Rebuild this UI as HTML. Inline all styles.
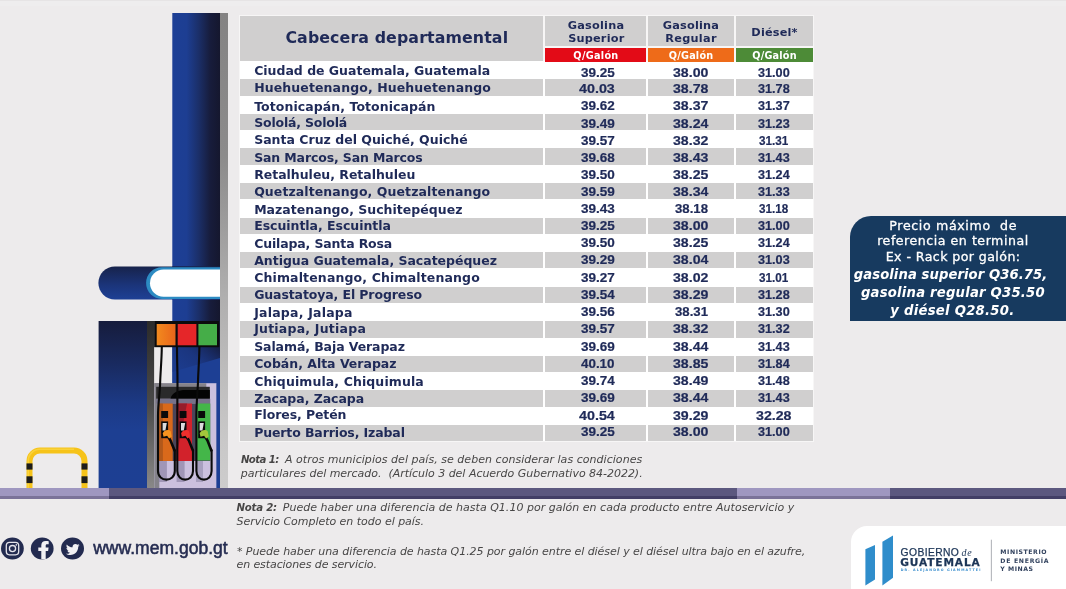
<!DOCTYPE html>
<html lang="es"><head><meta charset="utf-8"><title>Precios de referencia de combustibles</title>
<style>

html,body{margin:0;padding:0;background:#edebec;}
#page{position:relative;width:1066px;height:589px;overflow:hidden;background:#edebec;font-family:"DejaVu Sans","Liberation Sans",sans-serif;}
.abs{position:absolute;}
.url{-webkit-text-stroke:0.55px #262d52;}
.n{-webkit-text-stroke:0.2px #1f2a58;}
.med{-webkit-text-stroke:0.3px #fff;}
.gob{-webkit-text-stroke:0.25px #1c3557;}
.t{position:absolute;white-space:pre;line-height:20px;height:20px;margin:0;padding:0;}
.cell{position:absolute;background:#d0cfcf;}
#illus{position:absolute;left:0;top:0;}

</style></head><body><div id="page">
<div class="abs" style="left:0;top:0;width:1066px;height:6px;background:#eeedee"></div><div class="abs" style="left:0;top:0;width:1066px;height:1px;background:#e6e4e5"></div>
<svg id="illus" width="1066" height="589" viewBox="0 0 1066 589">
<defs>
<linearGradient id="gPil" x1="0" y1="0" x2="1" y2="0">
<stop offset="0" stop-color="#1d3f95"/><stop offset="0.3" stop-color="#1d3e92"/><stop offset="0.55" stop-color="#1b2f69"/><stop offset="0.8" stop-color="#171c3b"/><stop offset="1" stop-color="#15172e"/>
</linearGradient>
<linearGradient id="gWall" x1="0" y1="0" x2="0" y2="1">
<stop offset="0" stop-color="#848383"/><stop offset="0.3" stop-color="#8c8b8b"/><stop offset="0.6" stop-color="#b0afaf"/><stop offset="0.9" stop-color="#c9c8c8"/><stop offset="1" stop-color="#cdcccc"/>
</linearGradient>
<linearGradient id="gArm" x1="0" y1="0" x2="0" y2="1">
<stop offset="0" stop-color="#17234b"/><stop offset="0.55" stop-color="#1b3479"/><stop offset="1" stop-color="#1e4095"/>
</linearGradient>
<linearGradient id="gBlk" x1="0" y1="0" x2="0" y2="1">
<stop offset="0" stop-color="#161c3c"/><stop offset="0.25" stop-color="#192a5f"/><stop offset="0.5" stop-color="#1c3a86"/><stop offset="0.65" stop-color="#1d3f92"/><stop offset="1" stop-color="#1d3f93"/>
</linearGradient>
<linearGradient id="gSide" x1="0" y1="0" x2="0" y2="1">
<stop offset="0" stop-color="#2b2b2b"/><stop offset="0.5" stop-color="#4a4a4a"/><stop offset="1" stop-color="#8a8989"/>
</linearGradient>
<linearGradient id="gOr" x1="0" y1="0" x2="1" y2="0">
<stop offset="0" stop-color="#f28a1e"/><stop offset="1" stop-color="#e9651b"/>
</linearGradient>
<linearGradient id="gShadow" x1="1" y1="0" x2="0" y2="0.6">
<stop offset="0" stop-color="#151b3a" stop-opacity="0.95"/><stop offset="0.55" stop-color="#182a66" stop-opacity="0.45"/><stop offset="1" stop-color="#1a347e" stop-opacity="0.35"/>
</linearGradient>
</defs>
<!-- pillar -->
<rect x="172.3" y="13" width="47.7" height="476" fill="url(#gPil)"/>
<!-- canopy arm -->
<rect x="98.4" y="266.5" width="125" height="33" rx="16.5" fill="url(#gArm)"/>
<rect x="172.3" y="266.5" width="47.7" height="33" fill="url(#gArm)"/>
<path d="M220 267.2 H162 a15.9 15.9 0 0 0 0 31.8 H220 Z" fill="#2c8bc3"/>
<path d="M220 269.6 H163.6 a13.6 13.6 0 0 0 0 27.2 H220 Z" fill="#ffffff"/>
<rect x="220" y="13" width="8" height="476" fill="url(#gWall)"/>
<!-- dark block -->
<rect x="98.6" y="321" width="49" height="168" fill="url(#gBlk)"/>
<rect x="147" y="321" width="7.4" height="168" fill="url(#gSide)"/>
<!-- gap behind hoses (bg) -->
<rect x="154.3" y="347" width="18" height="37" fill="#edebec"/>
<!-- shadow on pillar below frame -->
<rect x="172.3" y="347" width="47.7" height="142" fill="#1d3f94"/>
<polygon points="172.3,347 220,347 220,358 172.3,372" fill="url(#gShadow)"/>
<!-- colour frame -->
<rect x="154.2" y="321" width="64.8" height="26.2" fill="#0b0b0d"/>
<rect x="156.7" y="324" width="18.8" height="21.3" fill="url(#gOr)"/>
<rect x="177.7" y="324" width="18.7" height="21.3" fill="#e52629"/>
<rect x="198.4" y="324" width="18.6" height="21.3" fill="#45ad48"/>
<!-- pump body -->
<rect x="154.3" y="383.2" width="62.3" height="105.3" fill="#cbc0de"/>
<rect x="154.3" y="383.2" width="52" height="3.8" fill="#85838a"/>
<rect x="154.3" y="383.2" width="5" height="105.3" fill="#84828a"/>
<rect x="156.2" y="386.8" width="53.6" height="12" fill="#2a2a2b"/>
<path d="M170.5 398.8 C172 392.5 178 390 186 390 H209.8 V398.8 Z" fill="#040404"/>
<rect x="156.2" y="398.8" width="54" height="4.7" fill="#77728a"/>
<!-- panels -->
<rect x="158.9" y="403.5" width="51.3" height="57.5" fill="#4b4559"/>
<rect x="158.9" y="403.5" width="13.8" height="57.5" fill="#d9691b"/>
<rect x="158.9" y="403.5" width="4" height="57.5" fill="#8f4a1c" opacity="0.55"/>
<rect x="176.6" y="403.5" width="15.4" height="57.5" fill="#d2222b"/>
<path d="M176.6 403.5 h10.5 l-10.5 52 z" fill="#8c1b2a" opacity="0.85"/>
<rect x="197" y="403.5" width="13.2" height="57" fill="#44b649"/>
<!-- lower shadows -->
<rect x="158.9" y="461" width="8" height="21" fill="#8d85a6" opacity="0.7"/>
<rect x="176.6" y="461" width="8" height="21" fill="#8d85a6" opacity="0.7"/>
<rect x="196" y="461" width="7" height="21" fill="#8d85a6" opacity="0.55"/>
<!-- displays -->
<g fill="#0a0a0a">
<rect x="161.2" y="411" width="6.9" height="7"/><rect x="179.6" y="411" width="6.9" height="7"/><rect x="198.2" y="411" width="6.9" height="7"/>
<rect x="161.2" y="421.4" width="6.9" height="16.8"/><rect x="179.6" y="421.4" width="6.9" height="16.8"/><rect x="198.2" y="421.4" width="6.9" height="16.8"/>
</g>
<g fill="#dcdcdc">
<path d="M162.6 423 h4.2 l-1.4 7.5 h-2.8z"/><path d="M181 423 h4.2 l-1.4 7.5 h-2.8z"/><path d="M199.6 423 h4.2 l-1.4 7.5 h-2.8z"/>
</g>
<!-- nozzle handles -->
<g fill="none" stroke="#0a0a0a" stroke-width="2.6" stroke-linecap="round">
<path d="M167.5 435.5 L170.5 440.5 L174.6 450.4"/>
<path d="M185.9 435.5 L188.9 440.5 L192.9 450.4"/>
<path d="M204.5 435.5 L207.5 440.5 L211.4 450.4"/>
</g>
<!-- nozzles -->
<path d="M162.7 433.2 c1.2-3.2 6-4.4 8-2 l1 5.2 -2.6 2.2 -2-2.8 -3.6 1 z" fill="#f6931f"/>
<path d="M181.1 433.2 c1.2-3.2 6-4.4 8-2 l1 5.2 -2.6 2.2 -2-2.8 -3.6 1 z" fill="#ee2f2c"/>
<path d="M199.7 433.2 c1.2-3.2 6-4.4 8-2 l1 5.2 -2.6 2.2 -2-2.8 -3.6 1 z" fill="#a3c73b"/>
<!-- hoses -->
<g fill="none" stroke="#0a0a0a" stroke-width="2.1" stroke-linecap="round">
<path d="M161.8 347 C161.6 362 160.4 372 160.1 384 C159.6 396 158 404 158 416 V471 C158 482.5 174.8 482.5 174.8 471 V450.4"/>
<path d="M177 347 C177 362 177.6 372 177.5 384 C177.4 396 177.3 404 177.3 416 V471 C177.3 482.5 193 482.5 193 471 V450.4"/>
<path d="M199.4 347 C199.2 362 198.2 372 197.9 384 C197.4 394 196.4 404 196.4 416 V471 C196.4 482.5 211.6 482.5 211.6 471 V450.4"/>
</g>
<!-- right blue strip beside pump -->
<rect x="216.6" y="383.2" width="3.4" height="105.3" fill="#1d3f94"/>
<!-- barrier -->
<path d="M29.5 489 V461 A10.5 10.5 0 0 1 40 450.5 H74 A10.5 10.5 0 0 1 84.5 461 V489" fill="none" stroke="#f6c31a" stroke-width="6"/>
<path d="M28.2 489 V461 A11.8 11.8 0 0 1 40 449.2 H74" fill="none" stroke="#fbd84a" stroke-width="1.6" opacity="0.7"/>
<g fill="#1c1c1c">
<rect x="26.5" y="463.4" width="6" height="6.2"/><rect x="26.5" y="476.3" width="6" height="6.8"/>
<rect x="81.5" y="463.4" width="6" height="6.2"/><rect x="81.5" y="476.3" width="6" height="6.8"/>
</g>
</svg>

<div class="abs" style="left:0;top:488px;width:1066px;height:11px;background:#5c587f"></div>
<div class="abs" style="left:0;top:495.5px;width:1066px;height:3.5px;background:#433f66"></div>
<div class="abs" style="left:0px;top:488px;width:109px;height:11px;background:#9f97c0"></div>
<div class="abs" style="left:0px;top:495.5px;width:109px;height:3.5px;background:#7b7399"></div>
<div class="abs" style="left:737px;top:488px;width:152.5px;height:11px;background:#9f97c0"></div>
<div class="abs" style="left:737px;top:495.5px;width:152.5px;height:3.5px;background:#7b7399"></div>
<div id="tabla" class="abs" style="left:239px;top:14.5px;width:574.5px;height:427px;background:#f7f6f6"></div>
<div class="abs" style="left:240px;top:61px;width:572.6px;height:380px;background:#fff"></div>
<div class="cell" style="left:240px;top:16px;width:303.3px;height:45px"></div>
<div class="cell" style="left:545.1px;top:16px;width:101.2px;height:30px"></div>
<div class="cell" style="left:545.1px;top:48px;width:101.2px;height:13.5px;background:#e30b17"></div>
<div class="cell" style="left:648.3px;top:16px;width:85.3px;height:30px"></div>
<div class="cell" style="left:648.3px;top:48px;width:85.3px;height:13.5px;background:#ee6b19"></div>
<div class="cell" style="left:735.9px;top:16px;width:76.7px;height:30px"></div>
<div class="cell" style="left:735.9px;top:48px;width:76.7px;height:13.5px;background:#4d8b37"></div>
<div class="cell" style="left:240px;top:79.30px;width:303.3px;height:16.4px"></div>
<div class="cell" style="left:545.1px;top:79.30px;width:101.2px;height:16.4px"></div>
<div class="cell" style="left:648.3px;top:79.30px;width:85.3px;height:16.4px"></div>
<div class="cell" style="left:735.9px;top:79.30px;width:76.7px;height:16.4px"></div>
<div class="cell" style="left:240px;top:113.85px;width:303.3px;height:16.4px"></div>
<div class="cell" style="left:545.1px;top:113.85px;width:101.2px;height:16.4px"></div>
<div class="cell" style="left:648.3px;top:113.85px;width:85.3px;height:16.4px"></div>
<div class="cell" style="left:735.9px;top:113.85px;width:76.7px;height:16.4px"></div>
<div class="cell" style="left:240px;top:148.40px;width:303.3px;height:16.4px"></div>
<div class="cell" style="left:545.1px;top:148.40px;width:101.2px;height:16.4px"></div>
<div class="cell" style="left:648.3px;top:148.40px;width:85.3px;height:16.4px"></div>
<div class="cell" style="left:735.9px;top:148.40px;width:76.7px;height:16.4px"></div>
<div class="cell" style="left:240px;top:182.95px;width:303.3px;height:16.4px"></div>
<div class="cell" style="left:545.1px;top:182.95px;width:101.2px;height:16.4px"></div>
<div class="cell" style="left:648.3px;top:182.95px;width:85.3px;height:16.4px"></div>
<div class="cell" style="left:735.9px;top:182.95px;width:76.7px;height:16.4px"></div>
<div class="cell" style="left:240px;top:217.50px;width:303.3px;height:16.4px"></div>
<div class="cell" style="left:545.1px;top:217.50px;width:101.2px;height:16.4px"></div>
<div class="cell" style="left:648.3px;top:217.50px;width:85.3px;height:16.4px"></div>
<div class="cell" style="left:735.9px;top:217.50px;width:76.7px;height:16.4px"></div>
<div class="cell" style="left:240px;top:252.05px;width:303.3px;height:16.4px"></div>
<div class="cell" style="left:545.1px;top:252.05px;width:101.2px;height:16.4px"></div>
<div class="cell" style="left:648.3px;top:252.05px;width:85.3px;height:16.4px"></div>
<div class="cell" style="left:735.9px;top:252.05px;width:76.7px;height:16.4px"></div>
<div class="cell" style="left:240px;top:286.60px;width:303.3px;height:16.4px"></div>
<div class="cell" style="left:545.1px;top:286.60px;width:101.2px;height:16.4px"></div>
<div class="cell" style="left:648.3px;top:286.60px;width:85.3px;height:16.4px"></div>
<div class="cell" style="left:735.9px;top:286.60px;width:76.7px;height:16.4px"></div>
<div class="cell" style="left:240px;top:321.15px;width:303.3px;height:16.4px"></div>
<div class="cell" style="left:545.1px;top:321.15px;width:101.2px;height:16.4px"></div>
<div class="cell" style="left:648.3px;top:321.15px;width:85.3px;height:16.4px"></div>
<div class="cell" style="left:735.9px;top:321.15px;width:76.7px;height:16.4px"></div>
<div class="cell" style="left:240px;top:355.70px;width:303.3px;height:16.4px"></div>
<div class="cell" style="left:545.1px;top:355.70px;width:101.2px;height:16.4px"></div>
<div class="cell" style="left:648.3px;top:355.70px;width:85.3px;height:16.4px"></div>
<div class="cell" style="left:735.9px;top:355.70px;width:76.7px;height:16.4px"></div>
<div class="cell" style="left:240px;top:390.25px;width:303.3px;height:16.4px"></div>
<div class="cell" style="left:545.1px;top:390.25px;width:101.2px;height:16.4px"></div>
<div class="cell" style="left:648.3px;top:390.25px;width:85.3px;height:16.4px"></div>
<div class="cell" style="left:735.9px;top:390.25px;width:76.7px;height:16.4px"></div>
<div class="cell" style="left:240px;top:424.80px;width:303.3px;height:16.4px"></div>
<div class="cell" style="left:545.1px;top:424.80px;width:101.2px;height:16.4px"></div>
<div class="cell" style="left:648.3px;top:424.80px;width:85.3px;height:16.4px"></div>
<div class="cell" style="left:735.9px;top:424.80px;width:76.7px;height:16.4px"></div>
<div class="abs" style="left:850.3px;top:216px;width:216px;height:105px;background:#173a5f;border-top-left-radius:21px"></div>
<svg class="abs" style="left:0;top:534px" width="90" height="30" viewBox="0 534 90 30">
<g fill="#232b50">
<ellipse cx="12.4" cy="548.5" rx="11.4" ry="10.9"/><ellipse cx="42.2" cy="548.5" rx="11.4" ry="10.9"/><ellipse cx="72.5" cy="548.5" rx="11.5" ry="10.9"/>
</g>
<!-- instagram -->
<rect x="6.3" y="542.4" width="12.4" height="12.4" rx="3.2" fill="none" stroke="#e4e3ea" stroke-width="1.3"/>
<circle cx="12.5" cy="548.6" r="3.1" fill="none" stroke="#e4e3ea" stroke-width="1.3"/>
<circle cx="16.3" cy="544.9" r="0.8" fill="#e4e3ea"/>
<!-- facebook -->
<path d="M41.3 559.3 V550.9 H38.3 V547.4 H41.3 V545.2 C41.3 542.3 43.1 540.9 45.6 540.9 C46.8 540.9 48 541.1 48.7 541.2 V544.3 H47.1 C45.9 544.3 45.7 545 45.7 545.8 V547.4 H48.6 L48.1 550.9 H45.7 V559.3 Z" fill="#f2f1f4"/>
<!-- twitter -->
<path d="M79.6 545.2 c-0.5 0.25-1.05 0.4-1.6 0.47 0.6-0.36 1-0.9 1.22-1.56 -0.55 0.32-1.15 0.55-1.78 0.68 -0.52-0.55-1.25-0.9-2.06-0.9 -1.56 0-2.82 1.27-2.82 2.82 0 0.22 0.02 0.44 0.07 0.64 -2.34-0.12-4.42-1.24-5.8-2.95 -0.25 0.42-0.38 0.9-0.38 1.42 0 0.98 0.5 1.84 1.25 2.35 -0.46-0.01-0.9-0.14-1.28-0.35v0.04c0 1.37 0.97 2.5 2.26 2.77 -0.24 0.06-0.5 0.1-0.75 0.1 -0.18 0-0.36-0.02-0.53-0.05 0.36 1.12 1.4 1.94 2.63 1.96 -0.96 0.76-2.18 1.2-3.5 1.2 -0.23 0-0.45-0.01-0.67-0.04 1.25 0.8 2.73 1.27 4.32 1.27 5.18 0 8.02-4.3 8.02-8.02l-0.01-0.36c0.55-0.4 1.03-0.9 1.41-1.47z" fill="#f2f1f4"/>
</svg>

<div class="abs" style="left:850.5px;top:526px;width:216px;height:64px;background:#fff;border-top-left-radius:16px"></div>
<svg class="abs" style="left:850px;top:526px" width="216" height="63" viewBox="850 526 216 63">
<polygon points="865.4,549.2 875,545 875,579.4 865.4,585.4" fill="#2f8dcb"/>
<polygon points="882.4,541.8 893,535.4 893,577.8 882.4,585.4" fill="#2f8dcb"/>
<rect x="990.9" y="539.7" width="0.7" height="41.5" fill="#8a8d96"/>
</svg>

<span class="t " id="t0" style='left:285.42px;top:28.00px;font-family:"DejaVu Sans", "Liberation Sans", sans-serif;font-size:15.8px;font-weight:bold;font-style:normal;color:#1f2a58;letter-spacing:0.110px'>Cabecera departamental</span>
<span class="t " id="t1" style='left:567.76px;top:15.60px;font-family:"DejaVu Sans", "Liberation Sans", sans-serif;font-size:11.3px;font-weight:bold;font-style:normal;color:#1f2a58;letter-spacing:0.212px'>Gasolina</span>
<span class="t " id="t2" style='left:568.15px;top:29.00px;font-family:"DejaVu Sans", "Liberation Sans", sans-serif;font-size:11.3px;font-weight:bold;font-style:normal;color:#1f2a58;letter-spacing:0.199px'>Superior</span>
<span class="t " id="t3" style='left:662.85px;top:16.10px;font-family:"DejaVu Sans", "Liberation Sans", sans-serif;font-size:11.3px;font-weight:bold;font-style:normal;color:#1f2a58;letter-spacing:0.187px'>Gasolina</span>
<span class="t " id="t4" style='left:665.33px;top:29.40px;font-family:"DejaVu Sans", "Liberation Sans", sans-serif;font-size:11.3px;font-weight:bold;font-style:normal;color:#1f2a58;letter-spacing:0.262px'>Regular</span>
<span class="t " id="t5" style='left:751.34px;top:22.50px;font-family:"DejaVu Sans", "Liberation Sans", sans-serif;font-size:11.3px;font-weight:bold;font-style:normal;color:#1f2a58;letter-spacing:0.174px'>Diésel*</span>
<span class="t " id="t6" style='left:573.37px;top:46.00px;font-family:"DejaVu Sans", "Liberation Sans", sans-serif;font-size:9.7px;font-weight:bold;font-style:normal;color:#fff;letter-spacing:0.288px'>Q/Galón</span>
<span class="t " id="t7" style='left:668.87px;top:45.60px;font-family:"DejaVu Sans", "Liberation Sans", sans-serif;font-size:9.7px;font-weight:bold;font-style:normal;color:#fff;letter-spacing:0.188px'>Q/Galón</span>
<span class="t " id="t8" style='left:752.27px;top:45.60px;font-family:"DejaVu Sans", "Liberation Sans", sans-serif;font-size:9.7px;font-weight:bold;font-style:normal;color:#fff;letter-spacing:0.188px'>Q/Galón</span>
<span class="t " id="t9" style='left:254.16px;top:61.00px;font-family:"DejaVu Sans", "Liberation Sans", sans-serif;font-size:12.5px;font-weight:bold;font-style:normal;color:#1f2a58;letter-spacing:-0.010px'>Ciudad de Guatemala, Guatemala</span>
<span class="t n" id="t10" style='left:580.90px;top:62.60px;font-family:"Liberation Sans", "DejaVu Sans", sans-serif;font-size:12.4px;font-weight:bold;font-style:normal;color:#1f2a58;letter-spacing:0.000px;transform:scaleX(1.0895);transform-origin:0 0'>39.25</span>
<span class="t n" id="t11" style='left:672.70px;top:62.60px;font-family:"Liberation Sans", "DejaVu Sans", sans-serif;font-size:12.4px;font-weight:bold;font-style:normal;color:#1f2a58;letter-spacing:0.000px;transform:scaleX(1.1411);transform-origin:0 0'>38.00</span>
<span class="t n" id="t12" style='left:757.85px;top:62.60px;font-family:"Liberation Sans", "DejaVu Sans", sans-serif;font-size:12.4px;font-weight:bold;font-style:normal;color:#1f2a58;letter-spacing:0.000px;transform:scaleX(1.0218);transform-origin:0 0'>31.00</span>
<span class="t " id="t13" style='left:254.16px;top:78.30px;font-family:"DejaVu Sans", "Liberation Sans", sans-serif;font-size:12.5px;font-weight:bold;font-style:normal;color:#1f2a58;letter-spacing:0.107px'>Huehuetenango, Huehuetenango</span>
<span class="t n" id="t14" style='left:578.90px;top:78.60px;font-family:"Liberation Sans", "DejaVu Sans", sans-serif;font-size:12.4px;font-weight:bold;font-style:normal;color:#1f2a58;letter-spacing:0.000px;transform:scaleX(1.1540);transform-origin:0 0'>40.03</span>
<span class="t n" id="t15" style='left:672.70px;top:78.60px;font-family:"Liberation Sans", "DejaVu Sans", sans-serif;font-size:12.4px;font-weight:bold;font-style:normal;color:#1f2a58;letter-spacing:0.000px;transform:scaleX(1.1411);transform-origin:0 0'>38.78</span>
<span class="t n" id="t16" style='left:757.85px;top:78.60px;font-family:"Liberation Sans", "DejaVu Sans", sans-serif;font-size:12.4px;font-weight:bold;font-style:normal;color:#1f2a58;letter-spacing:0.000px;transform:scaleX(1.0218);transform-origin:0 0'>31.78</span>
<span class="t " id="t17" style='left:254.16px;top:96.60px;font-family:"DejaVu Sans", "Liberation Sans", sans-serif;font-size:12.5px;font-weight:bold;font-style:normal;color:#1f2a58;letter-spacing:0.067px'>Totonicapán, Totonicapán</span>
<span class="t n" id="t18" style='left:580.90px;top:96.20px;font-family:"Liberation Sans", "DejaVu Sans", sans-serif;font-size:12.4px;font-weight:bold;font-style:normal;color:#1f2a58;letter-spacing:0.000px;transform:scaleX(1.0895);transform-origin:0 0'>39.62</span>
<span class="t n" id="t19" style='left:672.70px;top:96.20px;font-family:"Liberation Sans", "DejaVu Sans", sans-serif;font-size:12.4px;font-weight:bold;font-style:normal;color:#1f2a58;letter-spacing:0.000px;transform:scaleX(1.1411);transform-origin:0 0'>38.37</span>
<span class="t n" id="t20" style='left:757.85px;top:96.20px;font-family:"Liberation Sans", "DejaVu Sans", sans-serif;font-size:12.4px;font-weight:bold;font-style:normal;color:#1f2a58;letter-spacing:0.000px;transform:scaleX(1.0218);transform-origin:0 0'>31.37</span>
<span class="t " id="t21" style='left:254.16px;top:112.80px;font-family:"DejaVu Sans", "Liberation Sans", sans-serif;font-size:12.5px;font-weight:bold;font-style:normal;color:#1f2a58;letter-spacing:-0.185px'>Sololá, Sololá</span>
<span class="t n" id="t22" style='left:580.90px;top:113.60px;font-family:"Liberation Sans", "DejaVu Sans", sans-serif;font-size:12.4px;font-weight:bold;font-style:normal;color:#1f2a58;letter-spacing:0.000px;transform:scaleX(1.0895);transform-origin:0 0'>39.49</span>
<span class="t n" id="t23" style='left:672.70px;top:113.60px;font-family:"Liberation Sans", "DejaVu Sans", sans-serif;font-size:12.4px;font-weight:bold;font-style:normal;color:#1f2a58;letter-spacing:0.000px;transform:scaleX(1.1411);transform-origin:0 0'>38.24</span>
<span class="t n" id="t24" style='left:757.85px;top:113.60px;font-family:"Liberation Sans", "DejaVu Sans", sans-serif;font-size:12.4px;font-weight:bold;font-style:normal;color:#1f2a58;letter-spacing:0.000px;transform:scaleX(1.0218);transform-origin:0 0'>31.23</span>
<span class="t " id="t25" style='left:254.16px;top:130.20px;font-family:"DejaVu Sans", "Liberation Sans", sans-serif;font-size:12.5px;font-weight:bold;font-style:normal;color:#1f2a58;letter-spacing:0.009px'>Santa Cruz del Quiché, Quiché</span>
<span class="t n" id="t26" style='left:580.90px;top:130.60px;font-family:"Liberation Sans", "DejaVu Sans", sans-serif;font-size:12.4px;font-weight:bold;font-style:normal;color:#1f2a58;letter-spacing:0.000px;transform:scaleX(1.0895);transform-origin:0 0'>39.57</span>
<span class="t n" id="t27" style='left:672.70px;top:130.60px;font-family:"Liberation Sans", "DejaVu Sans", sans-serif;font-size:12.4px;font-weight:bold;font-style:normal;color:#1f2a58;letter-spacing:0.000px;transform:scaleX(1.1411);transform-origin:0 0'>38.32</span>
<span class="t n" id="t28" style='left:759.05px;top:130.60px;font-family:"Liberation Sans", "DejaVu Sans", sans-serif;font-size:12.4px;font-weight:bold;font-style:normal;color:#1f2a58;letter-spacing:0.000px;transform:scaleX(0.9444);transform-origin:0 0'>31.31</span>
<span class="t " id="t29" style='left:254.16px;top:147.60px;font-family:"DejaVu Sans", "Liberation Sans", sans-serif;font-size:12.5px;font-weight:bold;font-style:normal;color:#1f2a58;letter-spacing:-0.135px'>San Marcos, San Marcos</span>
<span class="t n" id="t30" style='left:580.90px;top:147.70px;font-family:"Liberation Sans", "DejaVu Sans", sans-serif;font-size:12.4px;font-weight:bold;font-style:normal;color:#1f2a58;letter-spacing:0.000px;transform:scaleX(1.0895);transform-origin:0 0'>39.68</span>
<span class="t n" id="t31" style='left:672.70px;top:147.70px;font-family:"Liberation Sans", "DejaVu Sans", sans-serif;font-size:12.4px;font-weight:bold;font-style:normal;color:#1f2a58;letter-spacing:0.000px;transform:scaleX(1.1411);transform-origin:0 0'>38.43</span>
<span class="t n" id="t32" style='left:757.85px;top:147.70px;font-family:"Liberation Sans", "DejaVu Sans", sans-serif;font-size:12.4px;font-weight:bold;font-style:normal;color:#1f2a58;letter-spacing:0.000px;transform:scaleX(1.0218);transform-origin:0 0'>31.43</span>
<span class="t " id="t33" style='left:254.16px;top:165.10px;font-family:"DejaVu Sans", "Liberation Sans", sans-serif;font-size:12.5px;font-weight:bold;font-style:normal;color:#1f2a58;letter-spacing:-0.020px'>Retalhuleu, Retalhuleu</span>
<span class="t n" id="t34" style='left:580.90px;top:165.40px;font-family:"Liberation Sans", "DejaVu Sans", sans-serif;font-size:12.4px;font-weight:bold;font-style:normal;color:#1f2a58;letter-spacing:0.000px;transform:scaleX(1.0895);transform-origin:0 0'>39.50</span>
<span class="t n" id="t35" style='left:672.70px;top:165.40px;font-family:"Liberation Sans", "DejaVu Sans", sans-serif;font-size:12.4px;font-weight:bold;font-style:normal;color:#1f2a58;letter-spacing:0.000px;transform:scaleX(1.1411);transform-origin:0 0'>38.25</span>
<span class="t n" id="t36" style='left:757.85px;top:165.40px;font-family:"Liberation Sans", "DejaVu Sans", sans-serif;font-size:12.4px;font-weight:bold;font-style:normal;color:#1f2a58;letter-spacing:0.000px;transform:scaleX(1.0218);transform-origin:0 0'>31.24</span>
<span class="t " id="t37" style='left:254.16px;top:182.00px;font-family:"DejaVu Sans", "Liberation Sans", sans-serif;font-size:12.5px;font-weight:bold;font-style:normal;color:#1f2a58;letter-spacing:0.086px'>Quetzaltenango, Quetzaltenango</span>
<span class="t n" id="t38" style='left:580.90px;top:182.40px;font-family:"Liberation Sans", "DejaVu Sans", sans-serif;font-size:12.4px;font-weight:bold;font-style:normal;color:#1f2a58;letter-spacing:0.000px;transform:scaleX(1.0895);transform-origin:0 0'>39.59</span>
<span class="t n" id="t39" style='left:672.70px;top:182.40px;font-family:"Liberation Sans", "DejaVu Sans", sans-serif;font-size:12.4px;font-weight:bold;font-style:normal;color:#1f2a58;letter-spacing:0.000px;transform:scaleX(1.1411);transform-origin:0 0'>38.34</span>
<span class="t n" id="t40" style='left:757.85px;top:182.40px;font-family:"Liberation Sans", "DejaVu Sans", sans-serif;font-size:12.4px;font-weight:bold;font-style:normal;color:#1f2a58;letter-spacing:0.000px;transform:scaleX(1.0218);transform-origin:0 0'>31.33</span>
<span class="t " id="t41" style='left:254.16px;top:199.70px;font-family:"DejaVu Sans", "Liberation Sans", sans-serif;font-size:12.5px;font-weight:bold;font-style:normal;color:#1f2a58;letter-spacing:0.015px'>Mazatenango, Suchitepéquez</span>
<span class="t n" id="t42" style='left:580.90px;top:199.40px;font-family:"Liberation Sans", "DejaVu Sans", sans-serif;font-size:12.4px;font-weight:bold;font-style:normal;color:#1f2a58;letter-spacing:0.000px;transform:scaleX(1.0895);transform-origin:0 0'>39.43</span>
<span class="t n" id="t43" style='left:675.10px;top:199.40px;font-family:"Liberation Sans", "DejaVu Sans", sans-serif;font-size:12.4px;font-weight:bold;font-style:normal;color:#1f2a58;letter-spacing:0.000px;transform:scaleX(1.0637);transform-origin:0 0'>38.18</span>
<span class="t n" id="t44" style='left:759.05px;top:199.40px;font-family:"Liberation Sans", "DejaVu Sans", sans-serif;font-size:12.4px;font-weight:bold;font-style:normal;color:#1f2a58;letter-spacing:0.000px;transform:scaleX(0.9444);transform-origin:0 0'>31.18</span>
<span class="t " id="t45" style='left:254.16px;top:216.00px;font-family:"DejaVu Sans", "Liberation Sans", sans-serif;font-size:12.5px;font-weight:bold;font-style:normal;color:#1f2a58;letter-spacing:-0.033px'>Escuintla, Escuintla</span>
<span class="t n" id="t46" style='left:580.90px;top:216.40px;font-family:"Liberation Sans", "DejaVu Sans", sans-serif;font-size:12.4px;font-weight:bold;font-style:normal;color:#1f2a58;letter-spacing:0.000px;transform:scaleX(1.0895);transform-origin:0 0'>39.25</span>
<span class="t n" id="t47" style='left:672.70px;top:216.40px;font-family:"Liberation Sans", "DejaVu Sans", sans-serif;font-size:12.4px;font-weight:bold;font-style:normal;color:#1f2a58;letter-spacing:0.000px;transform:scaleX(1.1411);transform-origin:0 0'>38.00</span>
<span class="t n" id="t48" style='left:757.85px;top:216.40px;font-family:"Liberation Sans", "DejaVu Sans", sans-serif;font-size:12.4px;font-weight:bold;font-style:normal;color:#1f2a58;letter-spacing:0.000px;transform:scaleX(1.0218);transform-origin:0 0'>31.00</span>
<span class="t " id="t49" style='left:254.16px;top:233.80px;font-family:"DejaVu Sans", "Liberation Sans", sans-serif;font-size:12.5px;font-weight:bold;font-style:normal;color:#1f2a58;letter-spacing:-0.146px'>Cuilapa, Santa Rosa</span>
<span class="t n" id="t50" style='left:580.90px;top:233.30px;font-family:"Liberation Sans", "DejaVu Sans", sans-serif;font-size:12.4px;font-weight:bold;font-style:normal;color:#1f2a58;letter-spacing:0.000px;transform:scaleX(1.0895);transform-origin:0 0'>39.50</span>
<span class="t n" id="t51" style='left:672.70px;top:233.30px;font-family:"Liberation Sans", "DejaVu Sans", sans-serif;font-size:12.4px;font-weight:bold;font-style:normal;color:#1f2a58;letter-spacing:0.000px;transform:scaleX(1.1411);transform-origin:0 0'>38.25</span>
<span class="t n" id="t52" style='left:757.85px;top:233.30px;font-family:"Liberation Sans", "DejaVu Sans", sans-serif;font-size:12.4px;font-weight:bold;font-style:normal;color:#1f2a58;letter-spacing:0.000px;transform:scaleX(1.0218);transform-origin:0 0'>31.24</span>
<span class="t " id="t53" style='left:254.16px;top:250.50px;font-family:"DejaVu Sans", "Liberation Sans", sans-serif;font-size:12.5px;font-weight:bold;font-style:normal;color:#1f2a58;letter-spacing:-0.025px'>Antigua Guatemala, Sacatepéquez</span>
<span class="t n" id="t54" style='left:580.90px;top:250.40px;font-family:"Liberation Sans", "DejaVu Sans", sans-serif;font-size:12.4px;font-weight:bold;font-style:normal;color:#1f2a58;letter-spacing:0.000px;transform:scaleX(1.0895);transform-origin:0 0'>39.29</span>
<span class="t n" id="t55" style='left:672.70px;top:250.40px;font-family:"Liberation Sans", "DejaVu Sans", sans-serif;font-size:12.4px;font-weight:bold;font-style:normal;color:#1f2a58;letter-spacing:0.000px;transform:scaleX(1.1411);transform-origin:0 0'>38.04</span>
<span class="t n" id="t56" style='left:757.85px;top:250.40px;font-family:"Liberation Sans", "DejaVu Sans", sans-serif;font-size:12.4px;font-weight:bold;font-style:normal;color:#1f2a58;letter-spacing:0.000px;transform:scaleX(1.0218);transform-origin:0 0'>31.03</span>
<span class="t " id="t57" style='left:254.16px;top:267.80px;font-family:"DejaVu Sans", "Liberation Sans", sans-serif;font-size:12.5px;font-weight:bold;font-style:normal;color:#1f2a58;letter-spacing:0.144px'>Chimaltenango, Chimaltenango</span>
<span class="t n" id="t58" style='left:580.90px;top:268.00px;font-family:"Liberation Sans", "DejaVu Sans", sans-serif;font-size:12.4px;font-weight:bold;font-style:normal;color:#1f2a58;letter-spacing:0.000px;transform:scaleX(1.0895);transform-origin:0 0'>39.27</span>
<span class="t n" id="t59" style='left:672.70px;top:268.00px;font-family:"Liberation Sans", "DejaVu Sans", sans-serif;font-size:12.4px;font-weight:bold;font-style:normal;color:#1f2a58;letter-spacing:0.000px;transform:scaleX(1.1411);transform-origin:0 0'>38.02</span>
<span class="t n" id="t60" style='left:759.05px;top:268.00px;font-family:"Liberation Sans", "DejaVu Sans", sans-serif;font-size:12.4px;font-weight:bold;font-style:normal;color:#1f2a58;letter-spacing:0.000px;transform:scaleX(0.9444);transform-origin:0 0'>31.01</span>
<span class="t " id="t61" style='left:254.16px;top:284.70px;font-family:"DejaVu Sans", "Liberation Sans", sans-serif;font-size:12.5px;font-weight:bold;font-style:normal;color:#1f2a58;letter-spacing:-0.114px'>Guastatoya, El Progreso</span>
<span class="t n" id="t62" style='left:580.90px;top:284.70px;font-family:"Liberation Sans", "DejaVu Sans", sans-serif;font-size:12.4px;font-weight:bold;font-style:normal;color:#1f2a58;letter-spacing:0.000px;transform:scaleX(1.0895);transform-origin:0 0'>39.54</span>
<span class="t n" id="t63" style='left:672.70px;top:284.70px;font-family:"Liberation Sans", "DejaVu Sans", sans-serif;font-size:12.4px;font-weight:bold;font-style:normal;color:#1f2a58;letter-spacing:0.000px;transform:scaleX(1.1411);transform-origin:0 0'>38.29</span>
<span class="t n" id="t64" style='left:757.85px;top:284.70px;font-family:"Liberation Sans", "DejaVu Sans", sans-serif;font-size:12.4px;font-weight:bold;font-style:normal;color:#1f2a58;letter-spacing:0.000px;transform:scaleX(1.0218);transform-origin:0 0'>31.28</span>
<span class="t " id="t65" style='left:254.16px;top:302.50px;font-family:"DejaVu Sans", "Liberation Sans", sans-serif;font-size:12.5px;font-weight:bold;font-style:normal;color:#1f2a58;letter-spacing:0.214px'>Jalapa, Jalapa</span>
<span class="t n" id="t66" style='left:580.90px;top:302.30px;font-family:"Liberation Sans", "DejaVu Sans", sans-serif;font-size:12.4px;font-weight:bold;font-style:normal;color:#1f2a58;letter-spacing:0.000px;transform:scaleX(1.0895);transform-origin:0 0'>39.56</span>
<span class="t n" id="t67" style='left:675.10px;top:302.30px;font-family:"Liberation Sans", "DejaVu Sans", sans-serif;font-size:12.4px;font-weight:bold;font-style:normal;color:#1f2a58;letter-spacing:0.000px;transform:scaleX(1.0637);transform-origin:0 0'>38.31</span>
<span class="t n" id="t68" style='left:757.85px;top:302.30px;font-family:"Liberation Sans", "DejaVu Sans", sans-serif;font-size:12.4px;font-weight:bold;font-style:normal;color:#1f2a58;letter-spacing:0.000px;transform:scaleX(1.0218);transform-origin:0 0'>31.30</span>
<span class="t " id="t69" style='left:254.16px;top:319.00px;font-family:"DejaVu Sans", "Liberation Sans", sans-serif;font-size:12.5px;font-weight:bold;font-style:normal;color:#1f2a58;letter-spacing:0.220px'>Jutiapa, Jutiapa</span>
<span class="t n" id="t70" style='left:580.90px;top:318.60px;font-family:"Liberation Sans", "DejaVu Sans", sans-serif;font-size:12.4px;font-weight:bold;font-style:normal;color:#1f2a58;letter-spacing:0.000px;transform:scaleX(1.0895);transform-origin:0 0'>39.57</span>
<span class="t n" id="t71" style='left:672.70px;top:318.60px;font-family:"Liberation Sans", "DejaVu Sans", sans-serif;font-size:12.4px;font-weight:bold;font-style:normal;color:#1f2a58;letter-spacing:0.000px;transform:scaleX(1.1411);transform-origin:0 0'>38.32</span>
<span class="t n" id="t72" style='left:757.85px;top:318.60px;font-family:"Liberation Sans", "DejaVu Sans", sans-serif;font-size:12.4px;font-weight:bold;font-style:normal;color:#1f2a58;letter-spacing:0.000px;transform:scaleX(1.0218);transform-origin:0 0'>31.32</span>
<span class="t " id="t73" style='left:254.16px;top:337.30px;font-family:"DejaVu Sans", "Liberation Sans", sans-serif;font-size:12.5px;font-weight:bold;font-style:normal;color:#1f2a58;letter-spacing:-0.090px'>Salamá, Baja Verapaz</span>
<span class="t n" id="t74" style='left:580.90px;top:337.00px;font-family:"Liberation Sans", "DejaVu Sans", sans-serif;font-size:12.4px;font-weight:bold;font-style:normal;color:#1f2a58;letter-spacing:0.000px;transform:scaleX(1.0895);transform-origin:0 0'>39.69</span>
<span class="t n" id="t75" style='left:672.70px;top:337.00px;font-family:"Liberation Sans", "DejaVu Sans", sans-serif;font-size:12.4px;font-weight:bold;font-style:normal;color:#1f2a58;letter-spacing:0.000px;transform:scaleX(1.1411);transform-origin:0 0'>38.44</span>
<span class="t n" id="t76" style='left:757.85px;top:337.00px;font-family:"Liberation Sans", "DejaVu Sans", sans-serif;font-size:12.4px;font-weight:bold;font-style:normal;color:#1f2a58;letter-spacing:0.000px;transform:scaleX(1.0218);transform-origin:0 0'>31.43</span>
<span class="t " id="t77" style='left:254.16px;top:354.20px;font-family:"DejaVu Sans", "Liberation Sans", sans-serif;font-size:12.5px;font-weight:bold;font-style:normal;color:#1f2a58;letter-spacing:-0.012px'>Cobán, Alta Verapaz</span>
<span class="t n" id="t78" style='left:581.20px;top:353.90px;font-family:"Liberation Sans", "DejaVu Sans", sans-serif;font-size:12.4px;font-weight:bold;font-style:normal;color:#1f2a58;letter-spacing:0.000px;transform:scaleX(1.0798);transform-origin:0 0'>40.10</span>
<span class="t n" id="t79" style='left:672.70px;top:353.90px;font-family:"Liberation Sans", "DejaVu Sans", sans-serif;font-size:12.4px;font-weight:bold;font-style:normal;color:#1f2a58;letter-spacing:0.000px;transform:scaleX(1.1411);transform-origin:0 0'>38.85</span>
<span class="t n" id="t80" style='left:757.85px;top:353.90px;font-family:"Liberation Sans", "DejaVu Sans", sans-serif;font-size:12.4px;font-weight:bold;font-style:normal;color:#1f2a58;letter-spacing:0.000px;transform:scaleX(1.0218);transform-origin:0 0'>31.84</span>
<span class="t " id="t81" style='left:254.16px;top:371.80px;font-family:"DejaVu Sans", "Liberation Sans", sans-serif;font-size:12.5px;font-weight:bold;font-style:normal;color:#1f2a58;letter-spacing:0.105px'>Chiquimula, Chiquimula</span>
<span class="t n" id="t82" style='left:580.90px;top:371.10px;font-family:"Liberation Sans", "DejaVu Sans", sans-serif;font-size:12.4px;font-weight:bold;font-style:normal;color:#1f2a58;letter-spacing:0.000px;transform:scaleX(1.0895);transform-origin:0 0'>39.74</span>
<span class="t n" id="t83" style='left:672.70px;top:371.10px;font-family:"Liberation Sans", "DejaVu Sans", sans-serif;font-size:12.4px;font-weight:bold;font-style:normal;color:#1f2a58;letter-spacing:0.000px;transform:scaleX(1.1411);transform-origin:0 0'>38.49</span>
<span class="t n" id="t84" style='left:757.85px;top:371.10px;font-family:"Liberation Sans", "DejaVu Sans", sans-serif;font-size:12.4px;font-weight:bold;font-style:normal;color:#1f2a58;letter-spacing:0.000px;transform:scaleX(1.0218);transform-origin:0 0'>31.48</span>
<span class="t " id="t85" style='left:254.16px;top:388.80px;font-family:"DejaVu Sans", "Liberation Sans", sans-serif;font-size:12.5px;font-weight:bold;font-style:normal;color:#1f2a58;letter-spacing:-0.042px'>Zacapa, Zacapa</span>
<span class="t n" id="t86" style='left:580.90px;top:387.90px;font-family:"Liberation Sans", "DejaVu Sans", sans-serif;font-size:12.4px;font-weight:bold;font-style:normal;color:#1f2a58;letter-spacing:0.000px;transform:scaleX(1.0895);transform-origin:0 0'>39.69</span>
<span class="t n" id="t87" style='left:672.70px;top:387.90px;font-family:"Liberation Sans", "DejaVu Sans", sans-serif;font-size:12.4px;font-weight:bold;font-style:normal;color:#1f2a58;letter-spacing:0.000px;transform:scaleX(1.1411);transform-origin:0 0'>38.44</span>
<span class="t n" id="t88" style='left:757.85px;top:387.90px;font-family:"Liberation Sans", "DejaVu Sans", sans-serif;font-size:12.4px;font-weight:bold;font-style:normal;color:#1f2a58;letter-spacing:0.000px;transform:scaleX(1.0218);transform-origin:0 0'>31.43</span>
<span class="t " id="t89" style='left:254.16px;top:405.30px;font-family:"DejaVu Sans", "Liberation Sans", sans-serif;font-size:12.5px;font-weight:bold;font-style:normal;color:#1f2a58;letter-spacing:-0.109px'>Flores, Petén</span>
<span class="t n" id="t90" style='left:578.90px;top:405.50px;font-family:"Liberation Sans", "DejaVu Sans", sans-serif;font-size:12.4px;font-weight:bold;font-style:normal;color:#1f2a58;letter-spacing:0.000px;transform:scaleX(1.1540);transform-origin:0 0'>40.54</span>
<span class="t n" id="t91" style='left:672.70px;top:405.50px;font-family:"Liberation Sans", "DejaVu Sans", sans-serif;font-size:12.4px;font-weight:bold;font-style:normal;color:#1f2a58;letter-spacing:0.000px;transform:scaleX(1.1411);transform-origin:0 0'>39.29</span>
<span class="t n" id="t92" style='left:755.95px;top:405.50px;font-family:"Liberation Sans", "DejaVu Sans", sans-serif;font-size:12.4px;font-weight:bold;font-style:normal;color:#1f2a58;letter-spacing:0.000px;transform:scaleX(1.1443);transform-origin:0 0'>32.28</span>
<span class="t " id="t93" style='left:254.16px;top:423.00px;font-family:"DejaVu Sans", "Liberation Sans", sans-serif;font-size:12.5px;font-weight:bold;font-style:normal;color:#1f2a58;letter-spacing:-0.122px'>Puerto Barrios, Izabal</span>
<span class="t n" id="t94" style='left:580.90px;top:422.40px;font-family:"Liberation Sans", "DejaVu Sans", sans-serif;font-size:12.4px;font-weight:bold;font-style:normal;color:#1f2a58;letter-spacing:0.000px;transform:scaleX(1.0895);transform-origin:0 0'>39.25</span>
<span class="t n" id="t95" style='left:672.70px;top:422.40px;font-family:"Liberation Sans", "DejaVu Sans", sans-serif;font-size:12.4px;font-weight:bold;font-style:normal;color:#1f2a58;letter-spacing:0.000px;transform:scaleX(1.1411);transform-origin:0 0'>38.00</span>
<span class="t n" id="t96" style='left:757.85px;top:422.40px;font-family:"Liberation Sans", "DejaVu Sans", sans-serif;font-size:12.4px;font-weight:bold;font-style:normal;color:#1f2a58;letter-spacing:0.000px;transform:scaleX(1.0218);transform-origin:0 0'>31.00</span>
<span class="t med" id="t97" style='left:889.36px;top:215.80px;font-family:"DejaVu Sans", "Liberation Sans", sans-serif;font-size:12.6px;font-weight:normal;font-style:normal;color:#fff;letter-spacing:0.641px'>Precio máximo  de</span>
<span class="t med" id="t98" style='left:877.20px;top:231.20px;font-family:"DejaVu Sans", "Liberation Sans", sans-serif;font-size:12.6px;font-weight:normal;font-style:normal;color:#fff;letter-spacing:0.526px'>referencia en terminal</span>
<span class="t med" id="t99" style='left:885.75px;top:247.20px;font-family:"DejaVu Sans", "Liberation Sans", sans-serif;font-size:12.6px;font-weight:normal;font-style:normal;color:#fff;letter-spacing:0.415px'>Ex - Rack por galón:</span>
<span class="t " id="t100" style='left:853.77px;top:264.70px;font-family:"DejaVu Sans", "Liberation Sans", sans-serif;font-size:13.2px;font-weight:bold;font-style:italic;color:#fff;letter-spacing:0.065px'>gasolina superior Q36.75,</span>
<span class="t " id="t101" style='left:860.95px;top:282.90px;font-family:"DejaVu Sans", "Liberation Sans", sans-serif;font-size:13.2px;font-weight:bold;font-style:italic;color:#fff;letter-spacing:0.219px'>gasolina regular Q35.50</span>
<span class="t " id="t102" style='left:890.37px;top:300.70px;font-family:"DejaVu Sans", "Liberation Sans", sans-serif;font-size:13.2px;font-weight:bold;font-style:italic;color:#fff;letter-spacing:0.262px'>y diésel Q28.50.</span>
<span class="t " id="t103" style='left:240.90px;top:449.80px;font-family:"DejaVu Sans", "Liberation Sans", sans-serif;font-size:10.2px;font-weight:bold;font-style:italic;color:#474646;letter-spacing:-0.582px'>Nota 1:</span>
<span class="t " id="t104" style='left:284.98px;top:449.80px;font-family:"DejaVu Sans", "Liberation Sans", sans-serif;font-size:11px;font-weight:normal;font-style:italic;color:#474646;letter-spacing:0.038px'>A otros municipios del país, se deben considerar las condiciones</span>
<span class="t " id="t105" style='left:240.78px;top:463.50px;font-family:"DejaVu Sans", "Liberation Sans", sans-serif;font-size:11px;font-weight:normal;font-style:italic;color:#474646;letter-spacing:-0.022px'>particulares del mercado.  (Artículo 3 del Acuerdo Gubernativo 84-2022).</span>
<span class="t " id="t106" style='left:236.50px;top:498.30px;font-family:"DejaVu Sans", "Liberation Sans", sans-serif;font-size:10.2px;font-weight:bold;font-style:italic;color:#474646;letter-spacing:-0.225px'>Nota 2:</span>
<span class="t " id="t107" style='left:282.78px;top:498.30px;font-family:"DejaVu Sans", "Liberation Sans", sans-serif;font-size:11px;font-weight:normal;font-style:italic;color:#474646;letter-spacing:0.017px'>Puede haber una diferencia de hasta Q1.10 por galón en cada producto entre Autoservicio y</span>
<span class="t " id="t108" style='left:236.48px;top:512.20px;font-family:"DejaVu Sans", "Liberation Sans", sans-serif;font-size:11px;font-weight:normal;font-style:italic;color:#474646;letter-spacing:-0.027px'>Servicio Completo en todo el país.</span>
<span class="t " id="t109" style='left:236.98px;top:541.50px;font-family:"DejaVu Sans", "Liberation Sans", sans-serif;font-size:11px;font-weight:normal;font-style:italic;color:#474646;letter-spacing:-0.057px'>* Puede haber una diferencia de hasta Q1.25 por galón entre el diésel y el diésel ultra bajo en el azufre,</span>
<span class="t " id="t110" style='left:236.48px;top:555.40px;font-family:"DejaVu Sans", "Liberation Sans", sans-serif;font-size:11px;font-weight:normal;font-style:italic;color:#474646;letter-spacing:-0.089px'>en estaciones de servicio.</span>
<span class="t url" id="t111" style='left:93.20px;top:537.60px;font-family:"Liberation Sans", "DejaVu Sans", sans-serif;font-size:17.5px;font-weight:normal;font-style:normal;color:#262d52;letter-spacing:0.020px'>www.mem.gob.gt</span>
<span class="t gob" id="t112" style='left:900.59px;top:543.20px;font-family:"Liberation Sans", "DejaVu Sans", sans-serif;font-size:10.3px;font-weight:normal;font-style:normal;color:#1c3557;letter-spacing:0.390px'>GOBIERNO</span>
<span class="t " id="t113" style='left:961.60px;top:543.20px;font-family:"Liberation Serif","DejaVu Serif",serif;font-size:10px;font-weight:normal;font-style:italic;color:#1c3557;letter-spacing:0.723px'>de</span>
<span class="t gob" id="t114" style='left:900.21px;top:551.90px;font-family:"DejaVu Sans", "Liberation Sans", sans-serif;font-size:10.6px;font-weight:bold;font-style:normal;color:#1c3557;letter-spacing:0.875px'>GUATEMALA</span>
<span class="t " id="t115" style='left:900.75px;top:560.30px;font-family:"DejaVu Sans", "Liberation Sans", sans-serif;font-size:3.3px;font-weight:bold;font-style:normal;color:#3c8fce;letter-spacing:1.124px'>DR. ALEJANDRO GIAMMATTEI</span>
<span class="t " id="t116" style='left:1000.33px;top:541.90px;font-family:"DejaVu Sans", "Liberation Sans", sans-serif;font-size:6.2px;font-weight:bold;font-style:normal;color:#33435f;letter-spacing:0.556px'>MINISTERIO</span>
<span class="t " id="t117" style='left:1000.33px;top:550.50px;font-family:"DejaVu Sans", "Liberation Sans", sans-serif;font-size:6.2px;font-weight:bold;font-style:normal;color:#33435f;letter-spacing:0.694px'>DE ENERGÍA</span>
<span class="t " id="t118" style='left:1000.33px;top:558.90px;font-family:"DejaVu Sans", "Liberation Sans", sans-serif;font-size:6.2px;font-weight:bold;font-style:normal;color:#33435f;letter-spacing:0.528px'>Y MINAS</span>
</div></body></html>
